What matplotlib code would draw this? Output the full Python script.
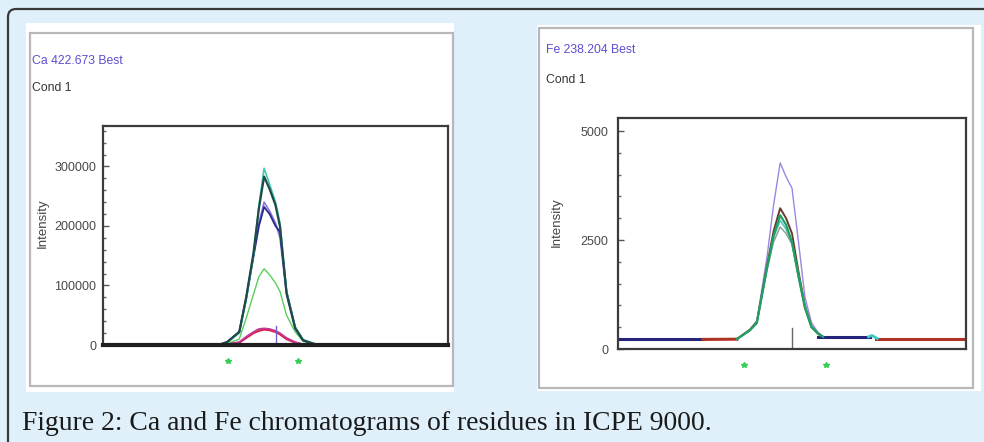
import numpy as np
import matplotlib
matplotlib.use("Agg")
import matplotlib.pyplot as plt
from matplotlib.patches import Rectangle, FancyBboxPatch
from matplotlib.ticker import MultipleLocator
import matplotlib.transforms as mtransforms

plt.rcParams['font.family'] = ['Liberation Sans', 'DejaVu Sans']

# ---- Ca 422.673 data (x = scan position, % of window; y = intensity) ----
ca_x = [0, 31, 34, 36, 39.5, 41.5, 43.6, 45.2, 46.7, 48.3, 50, 51.3, 53.2, 55.7, 58, 61.4, 64, 100]
ca_dark = [0, 0, 1000, 5000, 22000, 80000, 154000, 230000, 283000, 262000, 235000, 199000, 87000, 28000, 8000, 1500, 0, 0]
ca_cyan = [0, 0, 1000, 4000, 20000, 75000, 150000, 235000, 297000, 270000, 240000, 205000, 90000, 30000, 9000, 2000, 0, 0]
ca_purple = [0, 0, 1000, 5000, 22000, 80000, 150000, 205000, 240000, 225000, 205000, 180000, 85000, 28000, 8000, 1000, 0, 0]
ca_navy = [0, 0, 1000, 5000, 22000, 78000, 148000, 200000, 232000, 220000, 200000, 190000, 90000, 30000, 8000, 1000, 0, 0]
ca_green = [0, 0, 500, 2000, 10000, 45000, 85000, 115000, 128000, 118000, 104000, 90000, 50000, 22000, 6000, 1000, 0, 0]
ca_red = [0, 0, 0, 1000, 4000, 12000, 20000, 24000, 26000, 25000, 22000, 18000, 10000, 4000, 1000, 0, 0, 0]
ca_magenta = [0, 0, 0, 1000, 5000, 14000, 22000, 27000, 28000, 27000, 24000, 20000, 12000, 5000, 1000, 0, 0, 0]
ca_marker_x = 50
ca_marker_h = 32000
ca_window = [36.2, 56.5]
ca_ticks = [0, 100000, 200000, 300000]

# ---- Fe 238.204 data ----
fe_x = [34.2, 35.9, 37.9, 39.9, 42.8, 44.7, 46.6, 48.3, 50, 51.8, 53.7, 55.6, 57.5, 58.9]
fe_purple = [230, 330, 450, 650, 2100, 3300, 4270, 3950, 3690, 2500, 1200, 600, 380, 290]
fe_brown = [230, 330, 440, 620, 1900, 2700, 3230, 3000, 2650, 1800, 1000, 520, 360, 280]
fe_green = [230, 320, 430, 600, 1850, 2600, 3070, 2850, 2450, 1700, 950, 500, 350, 280]
fe_grey = [230, 320, 420, 590, 1800, 2450, 2800, 2650, 2400, 1650, 930, 490, 340, 280]
fe_cyan = [230, 320, 430, 610, 1850, 2550, 2950, 2750, 2420, 1720, 980, 520, 360, 285]
fe_base_blue_x = [[0, 24.4], [57.5, 72.4]]
fe_base_blue_y = [[225, 225], [280, 280]]
fe_base_red_x = [[24.4, 34.2], [74.1, 100]]
fe_base_red_y = [[220, 225], [225, 225]]
fe_bump_x = [72.0, 73.0, 74.5]
fe_bump_y = [280, 310, 240]
fe_marker_x = 50
fe_marker_h = 480
fe_window = [36.2, 59.8]
fe_ticks = [0, 2500, 5000]

W, H = 984, 442
fig = plt.figure(figsize=(W / 100, H / 100), dpi=100)
fig.patch.set_facecolor('#dff0fa')

# background drawing layer in pixel coordinates
bg = fig.add_axes([0, 0, 1, 1])
bg.set_xlim(0, W)
bg.set_ylim(H, 0)
bg.axis('off')
bg.add_patch(FancyBboxPatch((8, 9), 1100, 600, boxstyle='round,pad=0,rounding_size=8',
                            fc='#dff0fa', ec='#3a3a3a', lw=1.6))
# white panels with grey frames
bg.add_patch(Rectangle((26, 23), 428, 369, fc='white', ec='none'))
bg.add_patch(Rectangle((30, 33), 423, 353, fc='none', ec='#b8b8b8', lw=1.6))
bg.add_patch(Rectangle((537, 25), 444, 366, fc='white', ec='none'))
bg.add_patch(Rectangle((539, 28), 434, 360, fc='none', ec='#b8b8b8', lw=1.6))

bg.text(22, 423, 'Figure 2: Ca and Fe chromatograms of residues in ICPE 9000.',
        family='Liberation Serif', fontsize=19.9, color='#1a1a1a', va='center', ha='left')

bg.text(32, 61, 'Ca 422.673 Best', fontsize=8.8, color='#5a4fd0', va='center')
bg.text(32, 88, 'Cond 1', fontsize=8.8, color='#333333', va='center')
bg.text(43, 223, 'Intensity', fontsize=9.5, color='#444444', rotation=90, va='center', ha='center')
bg.text(546, 50, 'Fe 238.204 Best', fontsize=8.8, color='#5a4fd0', va='center')
bg.text(546, 80, 'Cond 1', fontsize=8.8, color='#333333', va='center')
bg.text(557, 222, 'Intensity', fontsize=9.5, color='#444444', rotation=90, va='center', ha='center')


def style_axes(ax, ticks, minor, top, pad):
    ax.set_xlim(0, 100)
    ax.set_ylim(0, top)
    ax.set_xticks([])
    ax.set_yticks(ticks)
    ax.set_yticklabels([str(t) for t in ticks])
    ax.yaxis.set_minor_locator(MultipleLocator(minor))
    ax.tick_params(axis='y', which='major', direction='in', length=4, width=1,
                   labelsize=9, labelcolor='#4a4a4a', color='#555555', pad=pad)
    ax.tick_params(axis='y', which='minor', direction='in', length=2, width=1, color='#666666')
    for s in ax.spines.values():
        s.set_color('#3c3c3c')
        s.set_linewidth(1.6)
    ax.set_facecolor('white')


# ---- Ca axes ----
ax1 = fig.add_axes([103 / W, 1 - 345 / H, 345 / W, 219 / H])
style_axes(ax1, ca_ticks, 20000, 368000, 5)
ax1.plot([0, 100], [0, 0], color='#202020', lw=3, clip_on=False, zorder=3)
ax1.plot(ca_x, ca_green, color='#58d058', lw=1.0)
ax1.plot(ca_x, ca_red, color='#d8204a', lw=1.6)
ax1.plot(ca_x, ca_magenta, color='#c03a9a', lw=1.2)
ax1.plot(ca_x, ca_purple, color='#8a70e0', lw=1.2)
ax1.plot(ca_x, ca_navy, color='#2a2a8c', lw=1.3)
ax1.plot(ca_x, ca_cyan, color='#40c8b0', lw=1.2)
ax1.plot(ca_x, ca_dark, color='#1e4a48', lw=1.6)
ax1.plot([ca_marker_x, ca_marker_x], [0, ca_marker_h], color='#7a60d0', lw=1)
trans1 = mtransforms.blended_transform_factory(ax1.transData, ax1.transAxes)
ax1.plot(ca_window, [-0.075, -0.075], ls='none', marker='*', ms=4, color='#30d050',
         transform=trans1, clip_on=False)

# ---- Fe axes ----
ax2 = fig.add_axes([618 / W, 1 - 349 / H, 348 / W, 231 / H])
style_axes(ax2, fe_ticks, 500, 5300, 7)
for xs, ys in zip(fe_base_blue_x, fe_base_blue_y):
    ax2.plot(xs, ys, color='#24247a', lw=2.2)
for xs, ys in zip(fe_base_red_x, fe_base_red_y):
    ax2.plot(xs, ys, color='#b03222', lw=2.2)
ax2.plot(fe_bump_x, fe_bump_y, color='#40c8c0', lw=2)
ax2.plot(fe_x, fe_purple, color='#9a88e0', lw=1.0)
ax2.plot(fe_x, fe_grey, color='#8a9a90', lw=1.0)
ax2.plot(fe_x, fe_brown, color='#6a3a30', lw=1.4)
ax2.plot(fe_x, fe_cyan, color='#50c8c0', lw=1.2)
ax2.plot(fe_x, fe_green, color='#20a060', lw=1.6)
ax2.plot([fe_marker_x, fe_marker_x], [0, fe_marker_h], color='#666666', lw=1)
trans2 = mtransforms.blended_transform_factory(ax2.transData, ax2.transAxes)
ax2.plot(fe_window, [-0.07, -0.07], ls='none', marker='*', ms=4, color='#30d050',
         transform=trans2, clip_on=False)

fig.savefig('out.png', dpi=100, facecolor=fig.get_facecolor())
